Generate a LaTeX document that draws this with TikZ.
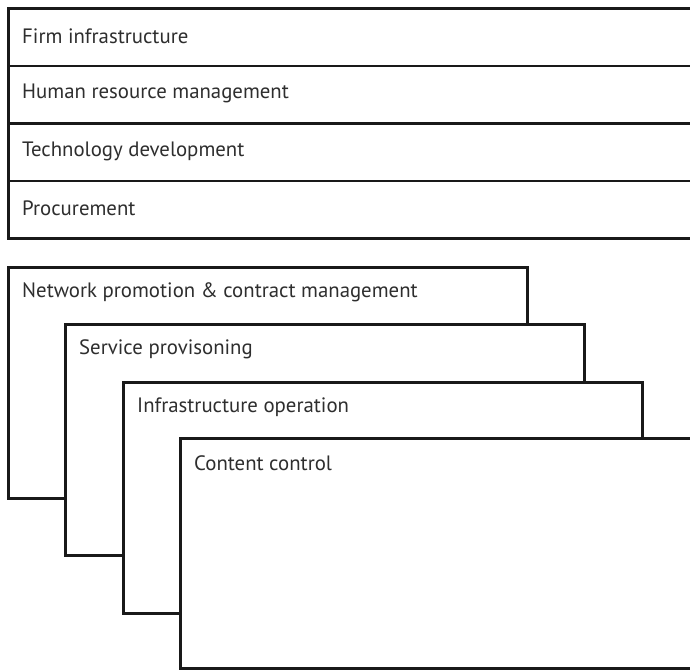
\documentclass[tikz,border=0pt]{standalone}
\usepackage{fontspec}
\setmainfont{PT Sans}
\begin{document}
\begin{tikzpicture}[x=1pt,y=-1pt,
  frame/.style={draw=black!90, line width=2.8pt, fill=white, inner sep=0pt,
    anchor=north west},
  row/.style={frame, minimum width=713pt, minimum height=57.5pt},
  panel/.style={frame, minimum width=519pt, minimum height=231pt},
  caption/.style={anchor=west, text=black!82, inner sep=0pt,
    font=\fontsize{20.8}{24}\selectfont}]
\useasboundingbox (0,0) rectangle (690,669);
\clip (0,0) rectangle (690,669);

% support activities: four stacked rows
\node[row] (firm) at (7,7) {};
\node[row] (hrm)  at (7,64.5) {};
\node[row] (tech) at (7,122) {};
\node[row] (proc) at (7,179.5) {};
\node[caption] (firmT) at ([xshift=15pt,yshift=1pt]firm.west) {Firm infrastructure};
\node[caption] (hrmT)  at ([xshift=15pt,yshift=1pt]hrm.west)  {Human resource management};
\node[caption] (techT) at ([xshift=15pt,yshift=1pt]tech.west) {Technology development};
\node[caption] (procT) at ([xshift=15pt,yshift=1pt]proc.west) {Procurement};

% primary activities: overlapping cascade of panels
\node[panel] (net)   at (7,266) {};
\node[panel] (serv)  at (64,323) {};
\node[panel] (infra) at (122,381) {};
\node[panel, minimum height=230pt] (cont) at (179,437) {};
\node[caption] (netT)   at ([xshift=15pt,yshift=-26pt]net.north west)   {Network promotion \& contract management};
\node[caption] (servT)  at ([xshift=15pt,yshift=-26pt]serv.north west)  {Service provisoning};
\node[caption] (infraT) at ([xshift=15pt,yshift=-26pt]infra.north west) {Infrastructure operation};
\node[caption] (contT)  at ([xshift=15pt,yshift=-26pt]cont.north west)  {Content control};
\end{tikzpicture}
\end{document}
